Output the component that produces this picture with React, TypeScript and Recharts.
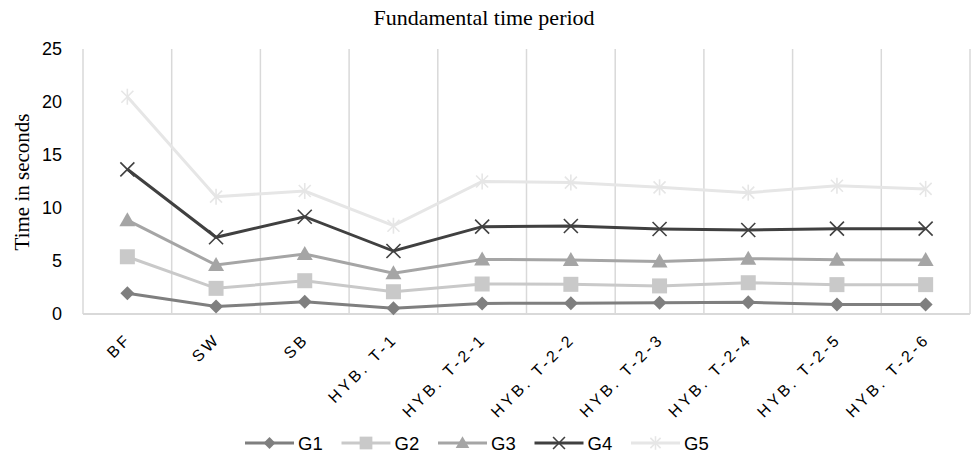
import React from 'react';
import { ComposedChart, Line, XAxis, YAxis, CartesianGrid } from 'recharts';

const categories = ['BF', 'SW', 'SB', 'HYB. T-1', 'HYB. T-2-1', 'HYB. T-2-2', 'HYB. T-2-3', 'HYB. T-2-4', 'HYB. T-2-5', 'HYB. T-2-6'];
const g1 = [1.95, 0.7, 1.15, 0.55, 1.0, 1.02, 1.07, 1.1, 0.9, 0.9];
const g2 = [5.4, 2.42, 3.14, 2.1, 2.83, 2.8, 2.65, 2.95, 2.77, 2.77];
const g3 = [8.85, 4.62, 5.66, 3.84, 5.15, 5.1, 4.95, 5.22, 5.12, 5.1];
const g4 = [13.65, 7.24, 9.18, 5.94, 8.24, 8.3, 8.02, 7.92, 8.05, 8.05];
const g5 = [20.5, 11.07, 11.6, 8.33, 12.5, 12.4, 11.95, 11.45, 12.1, 11.8];
const yTicks = [0, 5, 10, 15, 20, 25];

const seriesNames = ['G1', 'G2', 'G3', 'G4', 'G5'];
const seriesColors = ['#7f7f7f', '#c9c9c9', '#a5a5a5', '#404040', '#e6e6e6'];
const seriesMarkers = ['diamond', 'square', 'triangle', 'x', 'star'];

const data = categories.map((c, i) => ({ cat: c, G1: g1[i], G2: g2[i], G3: g3[i], G4: g4[i], G5: g5[i] }));

const SANS = '"Liberation Sans", Arial, sans-serif';
const SERIF = '"Liberation Serif", "Times New Roman", serif';

function Marker({ kind, cx, cy, color, s = 1 }: { kind: string; cx: number; cy: number; color: string; s?: number }) {
  if (cx == null || cy == null) return null;
  switch (kind) {
    case 'diamond':
      return <polygon points={`${cx},${cy - 7 * s} ${cx + 7 * s},${cy} ${cx},${cy + 7 * s} ${cx - 7 * s},${cy}`} fill={color} />;
    case 'square':
      return <rect x={cx - 7.5 * s} y={cy - 7.5 * s} width={15 * s} height={15 * s} fill={color} />;
    case 'triangle':
      return <polygon points={`${cx},${cy - 8 * s} ${cx + 8 * s},${cy + 6 * s} ${cx - 8 * s},${cy + 6 * s}`} fill={color} />;
    case 'x':
      return (
        <g stroke={color} strokeWidth={1.6}>
          <line x1={cx - 7 * s} y1={cy - 7 * s} x2={cx + 7 * s} y2={cy + 7 * s} />
          <line x1={cx - 7 * s} y1={cy + 7 * s} x2={cx + 7 * s} y2={cy - 7 * s} />
        </g>
      );
    case 'star':
      return (
        <g stroke={color} strokeWidth={1.6}>
          <line x1={cx - 6 * s} y1={cy - 6 * s} x2={cx + 6 * s} y2={cy + 6 * s} />
          <line x1={cx - 6 * s} y1={cy + 6 * s} x2={cx + 6 * s} y2={cy - 6 * s} />
          <line x1={cx} y1={cy - 8 * s} x2={cx} y2={cy + 8 * s} />
        </g>
      );
    default:
      return null;
  }
}

const XTick = (props: any) => {
  const { x, y, payload } = props;
  return (
    <g transform={`translate(${x - 3},${y + 10}) rotate(-45)`}>
      <text x={0} y={0} dy={11.5} textAnchor="end" fill="#000" fontFamily={SANS} fontSize={16} letterSpacing={3.2}>
        {payload.value}
      </text>
    </g>
  );
};

const gridGen = (args: any) => {
  const off = args.offset;
  const n = categories.length;
  const pts: number[] = [];
  for (let i = 0; i <= n; i++) pts.push(off.left + (i * off.width) / n);
  return pts;
};

export default function App() {
  return (
    <div style={{ position: 'absolute', left: 0, top: 0, width: 973, height: 456, background: '#fff' }}>
      <ComposedChart width={973} height={456} data={data} margin={{ top: 49, right: 3, bottom: 112, left: 0 }}>
        <CartesianGrid horizontal={false} vertical stroke="#d9d9d9" strokeWidth={1.5} verticalCoordinatesGenerator={gridGen} />
        <XAxis
          dataKey="cat"
          scale="band"
          height={30}
          interval={0}
          tickLine={false}
          axisLine={{ stroke: '#d9d9d9', strokeWidth: 2 }}
          tick={<XTick />}
        />
        <YAxis
          width={83}
          domain={[0, 25]}
          ticks={yTicks}
          interval={0}
          axisLine={false}
          tickLine={false}
          tickMargin={15}
          tick={{ fill: '#000', fontFamily: SANS, fontSize: 18 }}
        />
        {seriesNames.map((name, i) => (
          <Line
            key={name}
            dataKey={name}
            stroke={seriesColors[i]}
            strokeWidth={3}
            isAnimationActive={false}
            dot={(p: any) => <Marker key={`${name}-${p.index}`} kind={seriesMarkers[i]} cx={p.cx} cy={p.cy} color={seriesColors[i]} />}
            activeDot={false}
          />
        ))}
      </ComposedChart>
      <svg width={973} height={456} style={{ position: 'absolute', left: 0, top: 0, pointerEvents: 'none' }}>
        <text x={484} y={25} textAnchor="middle" fontFamily={SERIF} fontSize={22} fill="#000">
          Fundamental time period
        </text>
        <text x={0} y={0} transform="translate(29,182) rotate(-90)" textAnchor="middle" fontFamily={SERIF} fontSize={21} fill="#000">
          Time in seconds
        </text>
        {seriesNames.map((name, i) => {
          const x0 = 245 + i * 96.5;
          return (
            <g key={name}>
              <line x1={x0} y1={443} x2={x0 + 49} y2={443} stroke={seriesColors[i]} strokeWidth={3} />
              <Marker kind={seriesMarkers[i]} cx={x0 + 24.5} cy={443} color={seriesColors[i]} s={0.85} />
              <text x={x0 + 53} y={449.5} fontFamily={SANS} fontSize={18.5} fill="#000">
                {name}
              </text>
            </g>
          );
        })}
      </svg>
    </div>
  );
}
